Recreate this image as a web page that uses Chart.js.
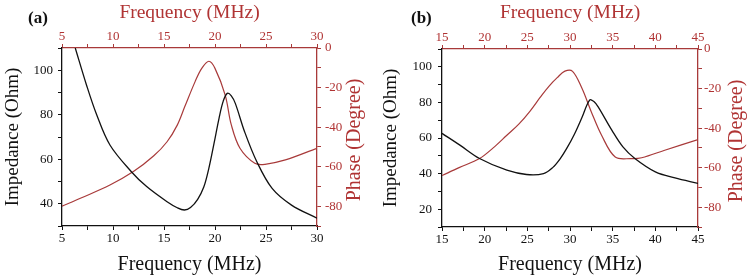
<!DOCTYPE html>
<html>
<head>
<meta charset="utf-8">
<script src="https://cdn.jsdelivr.net/npm/chart.js@4"></script>
<style>
    body { margin: 0; background: #fff; }
    #wrap { position: relative; width: 748px; height: 280px; }
    .panel { position: absolute; top: 0; width: 374px; height: 280px; }
    .tag { position: absolute; top: 8px; font: bold 17px "Liberation Serif", serif; color: #111; }
</style>
</head>
<body>
<div id="wrap">
    <div class="panel" style="left:0"><canvas id="chartA" width="374" height="280"></canvas></div>
    <div class="panel" style="left:374px"><canvas id="chartB" width="374" height="280"></canvas></div>
    <div class="tag" style="left:28px">(a)</div>
    <div class="tag" style="left:411px">(b)</div>
</div>
<script>
// panel (a) - impedance
const impA_f = [6.3, 7.4, 8.4, 9.7, 11.8, 13.3, 15.3, 16.3, 17.0, 17.6, 18.3, 18.9, 19.4, 19.9, 20.4, 20.8, 21.2, 21.6, 22.0, 22.9, 24.1, 25.6, 27.5, 30];
const impA_z = [110, 93.4, 80, 66.4, 54.4, 47.7, 40.9, 38.2, 37.2, 38.3, 42, 47.5, 56, 67, 78.5, 86, 89.6, 88.5, 85, 72.4, 58.9, 46.9, 39.4, 33.5];
// panel (a) - phase
const phA_f = [5, 6.8, 9.7, 12, 14, 15.3, 16.3, 17.05, 18.05, 18.7, 19.4, 20.0, 21.0, 21.6, 22.45, 23.9, 24.9, 26.9, 30];
const phA_p = [-80, -76, -69.3, -62.5, -54.5, -47.4, -39, -29.5, -17, -10.3, -6.7, -10.3, -23.8, -38.9, -50.7, -58.3, -58.8, -56.6, -50.7];

// panel (b) - impedance
const impB_f = [15, 17.1, 19.4, 22.6, 24.9, 26.9, 28.0, 28.8, 29.6, 30.5, 31.4, 32.3, 32.8, 33.3, 34.9, 36.2, 37.6, 40.0, 42.3, 45];
const impB_z = [62.6, 56, 48.5, 41.9, 39.5, 40, 43.5, 48, 54, 62, 71.5, 81.3, 80.5, 77.5, 64.4, 55, 48.5, 41, 37.6, 34.5];
// panel (b) - phase
const phB_f = [15, 17, 19.4, 21, 22.6, 24, 25.3, 26.5, 27.5, 28.5, 29.4, 30.3, 31.4, 32.5, 33.7, 35.3, 37.2, 38.4, 41.1, 45];
const phB_p = [-64, -60, -55.4, -50, -43.6, -38, -31.5, -24.5, -19, -14.5, -11.2, -11.3, -19.9, -31.8, -43.6, -54.6, -55.4, -55, -51.2, -45.8];

// axis ranges
const freqA = [5, 30];
const freqB = [15, 45];
const impRangeA = [30, 110];
const impRangeB = [10, 110];
const phaseRange = [-90, 0];

const RED = '#b03434';
const RED_LINE = '#a83a3a';
const SERIF = '"Liberation Serif", "Times New Roman", serif';

function pts(xs, ys) {
    return xs.map((x, i) => ({ x: x, y: ys[i] }));
}

// right axis title reads bottom-to-top, draw it ourselves
const phaseTitle = {
    id: 'phaseTitle',
    afterDraw(chart, args, opts) {
        const ctx = chart.ctx;
        const area = chart.chartArea;
        ctx.save();
        ctx.translate(opts.x, (area.top + area.bottom) / 2 + 3);
        ctx.rotate(-Math.PI / 2);
        ctx.font = '20px ' + SERIF;
        ctx.fillStyle = RED;
        ctx.textAlign = 'center';
        ctx.textBaseline = 'middle';
        ctx.fillText('Phase (Degree)', 0, 0);
        ctx.restore();
    }
};

function makeChart(id, o) {
    const tickFont = { family: SERIF, size: 13 };
    const fixW = w => (s => { s.width = w; });
    const fixH = h => (s => { s.height = h; });

    return new Chart(document.getElementById(id), {
        type: 'line',
        data: {
            datasets: [
                {
                    label: 'Impedance',
                    data: pts(o.impF, o.impZ),
                    borderColor: '#111',
                    borderWidth: 1.3,
                    pointRadius: 0,
                    tension: 0.35,
                    xAxisID: 'x',
                    yAxisID: 'y'
                },
                {
                    label: 'Phase',
                    data: pts(o.phF, o.phP),
                    borderColor: RED_LINE,
                    borderWidth: 1.2,
                    pointRadius: 0,
                    tension: 0.35,
                    xAxisID: 'x',
                    yAxisID: 'y2'
                }
            ]
        },
        options: {
            responsive: false,
            animation: false,
            devicePixelRatio: 1,
            layout: { padding: 0 },
            plugins: {
                legend: { display: false },
                tooltip: { enabled: false },
                phaseTitle: { x: o.phaseX }
            },
            scales: {
                x: {
                    type: 'linear', position: 'bottom',
                    min: o.freq[0], max: o.freq[1],
                    afterFit: fixH(o.bottomH),
                    grid: { drawOnChartArea: false, tickLength: 4, color: '#111' },
                    border: { color: '#111', width: 1.3 },
                    ticks: {
                        stepSize: 2.5, autoSkip: false, maxRotation: 0, padding: 1,
                        color: '#111', font: tickFont,
                        callback: v => (v % 5 === 0 ? v : '')
                    },
                    title: {
                        display: true, text: 'Frequency (MHz)', color: '#111',
                        font: { family: SERIF, size: 20 }, padding: { bottom: 3, top: 0 }
                    }
                },
                x2: {
                    type: 'linear', position: 'top',
                    min: o.freq[0], max: o.freq[1],
                    afterFit: fixH(o.topH),
                    grid: { drawOnChartArea: false, tickLength: 4, color: RED_LINE },
                    border: { color: RED_LINE, width: 1.3 },
                    ticks: {
                        stepSize: 2.5, autoSkip: false, maxRotation: 0, padding: 0,
                        color: RED, font: tickFont,
                        callback: v => (v % 5 === 0 ? v : '')
                    },
                    title: {
                        display: true, text: 'Frequency (MHz)', color: RED,
                        font: { family: SERIF, size: 19.5 }, padding: { top: 1, bottom: 0 }
                    }
                },
                y: {
                    position: 'left',
                    min: o.imp[0], max: o.imp[1],
                    afterFit: fixW(o.leftW),
                    grid: { drawOnChartArea: false, tickLength: 4, color: '#111' },
                    border: { color: '#111', width: 1.3 },
                    ticks: {
                        stepSize: 10, autoSkip: false, padding: o.leftPad,
                        color: '#111', font: tickFont,
                        callback: v => (v % 20 === 0 ? v : '')
                    },
                    title: {
                        display: true, text: 'Impedance (Ohm)', color: '#111',
                        font: { family: SERIF, size: 19 }, padding: { top: o.leftTitlePad, bottom: 0 }
                    }
                },
                y2: {
                    position: 'right',
                    min: phaseRange[0], max: phaseRange[1],
                    afterFit: fixW(o.rightW),
                    grid: { drawOnChartArea: false, tickLength: 4, color: RED_LINE },
                    border: { color: RED_LINE, width: 1.3 },
                    ticks: {
                        stepSize: 10, autoSkip: false, padding: o.rightPad,
                        color: RED, font: tickFont,
                        callback: v => (v % 20 === 0 ? v : '')
                    }
                }
            }
        },
        plugins: [phaseTitle]
    });
}

makeChart('chartA', {
    impF: impA_f, impZ: impA_z, phF: phA_f, phP: phA_p,
    freq: freqA, imp: impRangeA,
    leftW: 62, rightW: 57, topH: 48, bottomH: 54,
    leftPad: 5, rightPad: 4, leftTitlePad: 2, phaseX: 355
});

makeChart('chartB', {
    impF: impB_f, impZ: impB_z, phF: phB_f, phP: phB_p,
    freq: freqB, imp: impRangeB,
    leftW: 68, rightW: 50, topH: 49, bottomH: 53,
    leftPad: 6, rightPad: 2, leftTitlePad: 6, phaseX: 363
});
</script>
</body>
</html>
